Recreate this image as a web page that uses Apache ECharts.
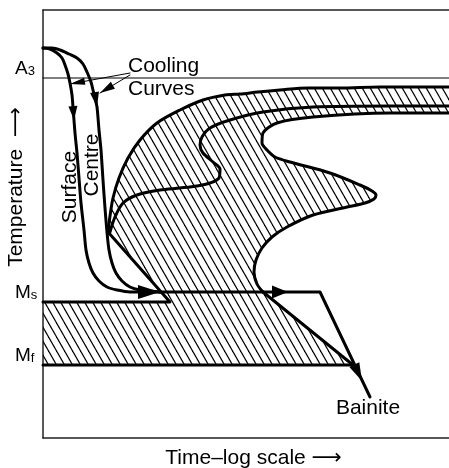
<!DOCTYPE html>
<html>
<head>
<meta charset="utf-8">
<script src="https://cdn.jsdelivr.net/npm/echarts@6/dist/echarts.min.js"></script>
<style>
html, body { margin: 0; padding: 0; background: #fff; }
#chart { width: 449px; height: 468px; }
</style>
</head>
<body>
<div id="chart"></div>
<script>
// x: time (log scale, arbitrary units), y: temperature (arbitrary units)
var A3 = 360, MS = 136, MF = 73;

// outer (start) boundary of the transformation C-curve, right edge -> nose
var outerEdge = [[406,351],[377,351],[337,351],[297,350],[265,350],[237,348],[215,346],[197,344],[182,343],
  [160,338],[137,328],[114,315],[97,298],[85,280],[76,260],[70,240],[67,222],[65,206]];
// nose -> down to Ms, then Ms line back to the axis
var noseToMs = [[65,206],[127,136],[0,136]];
var mfLine = [[0,73],[310,73]];
var lowerDiag = [[310,73],[220,146]];
// inner (finish) boundary of the C-curve, bottom -> right edge
var innerEdge = [[220,146],[214,154],[211,166],[213,178],[219,190],[229,201],[244,211],[270,223],[304,231],
  [322,235],[331,239],[333,243],[329,247],[317,253],[287,265],[247,276],[232,281],[224,288],[219,295],
  [220,305],[234,315],[270,321],[347,325],[406,325]];
// middle curve inside the hatched band
var sCurve = [[406,332],[347,332],[270,331],[220,326],[187,318],[167,310],[159,301],[157,293],[160,285],
  [170,276],[177,269],[176,260],[167,255],[154,252],[137,250],[117,248],[94,243],[80,235],[72,221],[67,206]];

var surface = [[0,390],[7,389],[14,385],[19,380],[22,373],[25,364],[27,355],[29,343],[30,331],[32,305],
  [34,285],[36,260],[38,235],[41,208],[43,188],[46,175],[50,165],[56,157],[64,151],[74,148],[87,146],
  [102,146],[117,146]];
var centre = [[0,390],[9,390],[17,388],[26,384],[34,380],[40,374],[44,366],[48,356],[50,348],[52,340],
  [54,331],[56,308],[58,288],[60,258],[62,230],[64,206],[66,188],[69,175],[73,165],[79,157],[87,151],
  [97,148],[107,147],[117,146]];
var bainitePath = [[117,146],[277,146],[327,41]];

var pointers = [[[87,365],[27,354]], [[87,363],[57,345]]];
// arrow heads: [tipX, tipY, backX, backY]
var arrowHeads = [[31,318,30,331],[54,331,52,343],[117,146,95,146],[245,146,229,146],
  [319,57,277,146],[27,354,87,365],[57,345,87,363]];

var noteText = ['Cooling', 'Curves', 'Surface', 'Centre', 'Bainite'];
var notePos = [[85,372],[85,349],[27,251],[49,273],[325,30]];

// ---------- styling ----------
var FONT = "'Liberation Sans', 'DejaVu Sans', Arial, sans-serif";
var INK = '#000';
var headSize = [[14,9],[15,9],[22,14],[16,13],[18,11],[15,7],[15,8]];
var noteStyle = [
  {align: 'left', rotate: 0}, {align: 'left', rotate: 0},
  {align: 'center', rotate: 90}, {align: 'center', rotate: 90}, {align: 'center', rotate: 0}
];

function hatchTile() {
  var c = document.createElement('canvas');
  c.width = 8; c.height = 14;
  var g = c.getContext('2d');
  g.strokeStyle = '#000';
  g.lineWidth = 1.2;
  for (var k = -1; k <= 1; k++) {
    g.beginPath();
    g.moveTo(k * 8 - 1, -1.75);
    g.lineTo(k * 8 + 9, 15.75);
    g.stroke();
  }
  return c;
}
var tile = hatchTile();

var hatchOutline = outerEdge.concat(noseToMs.slice(1), mfLine, lowerDiag.slice(1), innerEdge.slice(1));

function thick(data, smooth, w) {
  return {
    type: 'line', data: data, smooth: smooth, symbol: 'none', silent: true, z: 3,
    lineStyle: { color: INK, width: w || 3, cap: 'round', join: 'round' }
  };
}

var chart = echarts.init(document.getElementById('chart'));

var series = [
  {
    type: 'custom', silent: true, z: 1, data: [[0, 0]],
    renderItem: function (params, api) {
      var pts = hatchOutline.map(function (p) { return api.coord(p); });
      return { type: 'polygon', shape: { points: pts }, style: { fill: { image: tile, repeat: 'repeat' }, stroke: null } };
    }
  },
  thick([[0, A3], [406, A3]], false, 1),
  thick(outerEdge, 0.3),
  thick(noseToMs, false),
  thick(mfLine, false),
  thick(lowerDiag, false),
  thick(innerEdge, 0.3),
  thick(sCurve, 0.3),
  thick(surface, 0.3),
  thick(centre, 0.3),
  thick(bainitePath, false)
];
pointers.forEach(function (p) { series.push(thick(p, false, 1)); });

series.push({
  type: 'custom', silent: true, z: 5, data: arrowHeads,
  renderItem: function (params, api) {
    var tip = api.coord([api.value(0), api.value(1)]);
    var back = api.coord([api.value(2), api.value(3)]);
    var dx = tip[0] - back[0], dy = tip[1] - back[1];
    var d = Math.sqrt(dx * dx + dy * dy);
    var ux = dx / d, uy = dy / d;
    var s = headSize[params.dataIndex];
    var bx = tip[0] - ux * s[0], by = tip[1] - uy * s[0];
    var hw = s[1] / 2;
    return {
      type: 'polygon',
      shape: { points: [tip, [bx - uy * hw, by + ux * hw], [bx + uy * hw, by - ux * hw]] },
      style: { fill: INK }
    };
  }
});

series.push({
  type: 'scatter', silent: true, symbolSize: 0, z: 6,
  itemStyle: { opacity: 1 },
  data: notePos.map(function (p, i) {
    return {
      value: p,
      label: {
        show: true, position: 'inside', formatter: noteText[i], opacity: 1,
        align: noteStyle[i].align, verticalAlign: 'middle', rotate: noteStyle[i].rotate,
        fontSize: 21, fontFamily: FONT, color: INK
      }
    };
  })
});

var axisLine = { show: true, onZero: false, lineStyle: { color: '#222', width: 1.5 } };

chart.setOption({
  animation: false,
  backgroundColor: '#fff',
  grid: { left: 43, right: 0, top: 10, bottom: 30, containLabel: false, outerBoundsMode: 'none' },
  xAxis: [
    {
      type: 'value', min: 0, max: 406, axisLine: axisLine,
      axisTick: { show: false }, axisLabel: { show: false }, splitLine: { show: false },
      name: 'Time\u2013log scale \u27F6', nameLocation: 'middle', nameGap: 10, nameMoveOverlap: false,
      nameTextStyle: { fontSize: 21, fontFamily: FONT, color: INK, padding: [0, 0, 0, 15] }
    },
    {
      type: 'value', position: 'top', min: 0, max: 406, axisLine: axisLine,
      axisTick: { show: false }, axisLabel: { show: false }, splitLine: { show: false }
    }
  ],
  yAxis: {
    type: 'value', min: 0, max: 428, axisLine: axisLine,
    axisTick: { show: false }, splitLine: { show: false },
    axisLabel: {
      customValues: [A3, MS, MF], align: 'left', margin: 28, verticalAlign: 'bottom',
      formatter: function (v) {
        if (v === A3) return '{m|A}{s|3}';
        if (v === MS) return '{m|M}{s|s}';
        return '{m|M}{s|f}';
      },
      rich: {
        m: { fontSize: 19, lineHeight: 15, verticalAlign: 'bottom', fontFamily: FONT, color: INK },
        s: { fontSize: 13, lineHeight: 8, verticalAlign: 'bottom', fontFamily: FONT, color: INK }
      }
    },
    name: 'Temperature  \u27F6', nameLocation: 'middle', nameGap: 16, nameRotate: 90, nameMoveOverlap: false,
    nameTextStyle: { fontSize: 21, fontFamily: FONT, color: INK, padding: [0, 0, 0, 74] }
  },
  series: series
});
</script>
</body>
</html>
